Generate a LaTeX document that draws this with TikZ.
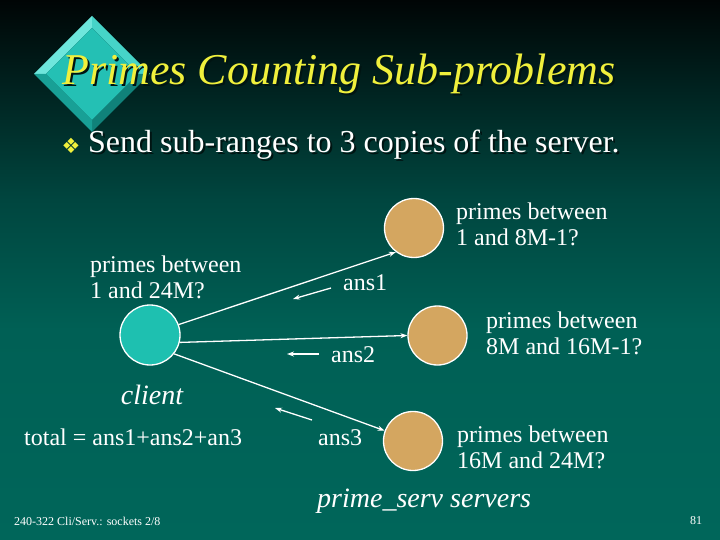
\documentclass[tikz,border=0pt]{standalone}
\usepackage{fontspec}
\setmainfont{Liberation Serif}
\newfontfamily\symfont{DejaVu Sans}
\usetikzlibrary{arrows.meta}
\definecolor{bgB}{RGB}{0,102,90}
\definecolor{bgL}{RGB}{0,96,85}
\definecolor{bgM}{RGB}{0,70,63}
\definecolor{bgU}{RGB}{0,35,32}
\definecolor{bgT}{RGB}{0,5,5}
\definecolor{titleyellow}{RGB}{240,240,60}
\definecolor{clientteal}{RGB}{30,192,176}
\definecolor{servertan}{RGB}{212,166,96}
\definecolor{gemface}{RGB}{36,192,180}
\definecolor{gemTL}{RGB}{110,230,220}
\definecolor{gemTR}{RGB}{70,212,200}
\definecolor{gemBR}{RGB}{16,130,122}
\definecolor{gemBL}{RGB}{24,160,150}
\definecolor{shadowc}{RGB}{0,20,18}
\newcommand{\shadowtext}[1]{\makebox[0pt][l]{\hspace{2pt}\raisebox{-2pt}{\textcolor{shadowc}{#1}}}#1}
\pgfdeclareverticalshading{bgshade}{100bp}{color(0bp)=(bgB); color(25bp)=(bgB); color(44.4bp)=(bgL); color(56.5bp)=(bgM); color(66.7bp)=(bgU); color(75bp)=(bgT); color(100bp)=(bgT)}
\tikzset{
  lbl/.style={text=white, font=\fontsize{24}{26}\selectfont, inner sep=0pt},
  twoline/.style={lbl, align=left, anchor=west},
  onel/.style={lbl, anchor=west},
  clientnode/.style={circle, fill=clientteal, draw=white, line width=1.3pt, minimum size=60pt, inner sep=0pt},
  servernode/.style={circle, fill=servertan, draw=white, line width=1.3pt, minimum size=59pt, inner sep=0pt},
  conn/.style={draw=white, line width=1.3pt, -{Stealth[length=7pt,width=5pt]}},
  retarrow/.style={draw=white, line width=1.3pt, -{Stealth[length=7pt,width=5pt]}},
}
\begin{document}
\begin{tikzpicture}[x=1pt,y=-1pt]
\useasboundingbox (0,0) rectangle (720,540);
\shade[shading=bgshade] (0,0) rectangle (720,540);
% gem
\coordinate (ot) at (92,16); \coordinate (or) at (150,74);
\coordinate (ob) at (92,132); \coordinate (ol) at (34,74);
\coordinate (it) at (92,28); \coordinate (ir) at (138,74);
\coordinate (ib) at (92,120); \coordinate (il) at (46,74);
\fill[gemTL] (ol) -- (ot) -- (it) -- (il) -- cycle;
\fill[gemTR] (ot) -- (or) -- (ir) -- (it) -- cycle;
\fill[gemBR] (or) -- (ob) -- (ib) -- (ir) -- cycle;
\fill[gemBL] (ob) -- (ol) -- (il) -- (ib) -- cycle;
\fill[gemface] (it) -- (ir) -- (ib) -- (il) -- cycle;
% title
\node (title) [anchor=base west, inner sep=0pt, text=titleyellow, font=\fontsize{44}{48}\selectfont\itshape] at (62,85) {\shadowtext{Primes Counting Sub-problems}};
% bullet
\node (bul) [text=titleyellow, font=\symfont\fontsize{21}{21}\selectfont, inner sep=0pt] at (71,146) {❖};
\node (sub) [anchor=base west, inner sep=0pt, text=white, font=\fontsize{32}{36}\selectfont] at (88,153) {\shadowtext{Send sub-ranges to 3 copies of the server.}};
% nodes
\node (client) [clientnode] at (150,335) {};
\node (s1) [servernode] at (414,228) {};
\node (s2) [servernode] at (437.5,335.5) {};
\node (s3) [servernode] at (413,441) {};
% connectors
\draw[conn] (client.20) -- (s1.233);
\draw[conn] (client.-14) -- (s2.180);
\draw[conn] (client.-38) -- (s3.160);
% return arrows
\coordinate (r1a) at (331,288); \coordinate (r1b) at (293,299);
\coordinate (r2a) at (319,354); \coordinate (r2b) at (287,354);
\coordinate (r3a) at (312,420); \coordinate (r3b) at (275,408);
\draw[retarrow] (r1a) -- (r1b);
\draw[retarrow] (r2a) -- (r2b);
\draw[retarrow] (r3a) -- (r3b);
% labels
\node (l0) [twoline] at (90,277) {primes between\\1 and 24M?};
\node (l1) [twoline] at (456,224) {primes between\\1 and 8M-1?};
\node (l2) [twoline] at (486,333) {primes between\\8M and 16M-1?};
\node (l3) [twoline] at (457,447) {primes between\\16M and 24M?};
\node (a1) [onel] at (343,283) {ans1};
\node (a2) [onel] at (331,355) {ans2};
\node (a3) [onel] at (318,438) {ans3};
\node (cl) [lbl, font=\fontsize{28}{30}\selectfont\itshape] at (152,395) {client};
\node (tot) [onel] at (24,437) {total = ans1+ans2+an3};
\node (ps) [lbl, anchor=west, font=\fontsize{28}{30}\selectfont\itshape] at (317,501) {prime\_serv servers};
\node (foot) [lbl, anchor=west, font=\fontsize{12}{13}\selectfont] at (14,521) {240-322 Cli/Serv.: sockets 2/8};
\node (pg) [lbl, anchor=west, font=\fontsize{12}{13}\selectfont] at (690,521) {81};
\end{tikzpicture}
\end{document}
